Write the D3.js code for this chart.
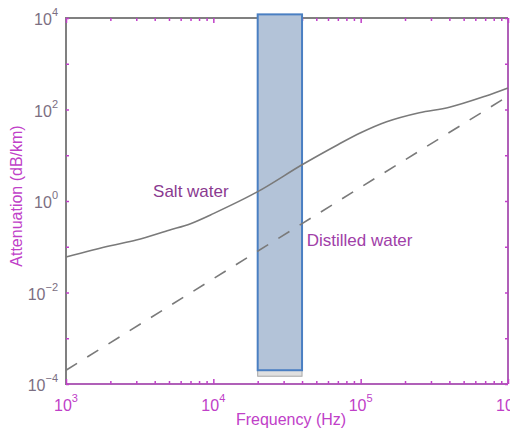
<!DOCTYPE html>
<html><head><meta charset="utf-8">
<script src="https://cdn.jsdelivr.net/npm/d3@7/dist/d3.min.js"></script>
<style>
html,body{margin:0;padding:0;background:#fff;}
svg{display:block;font-family:"Liberation Sans",Arial,Helvetica,sans-serif;}
</style></head>
<body>
<svg id="chart" width="510" height="433"></svg>
<script>
// ---- data ----
const freq = [1000,2000,3000,5000,7000,10000,20000,40000,70000,100000,150000,250000,400000,700000,1000000];
const saltWater = [0.06,0.105,0.14,0.23,0.32,0.53,1.6,6.2,17,31,54,85,112,195,295];
const freqDistilled = [1000,10000,100000,1000000];
const distilledWater = [0.0002,0.02,2,195];
const bandFreq = [20000,40000];
const bandAtten = [0.0002,12000];
const xTickExps = [3,4,5,6];
const yTickExps = [-4,-2,0,2,4];
const seriesLabels = ["Salt water","Distilled water"];
const xTitle = "Frequency (Hz)";
const yTitle = "Attenuation (dB/km)";

// ---- layout ----
const L=66, R=508, T=18, B=384;
const svg = d3.select("#chart");
const x = d3.scaleLog().domain([1e3,1e6]).range([L,R]);
const y = d3.scaleLog().domain([1e-4,1e4]).range([B,T]);

const grey="#808080", mag="#c040c8", purple="#8a3a90";

const xMajor = d3.range(3,7).map(e=>Math.pow(10,e));
const xMinor = [];
for(let e=3;e<6;e++) for(let m=2;m<10;m++) xMinor.push(m*Math.pow(10,e));
const yMajor = d3.range(-4,5).map(e=>Math.pow(10,e));

// frame
svg.append("line").attr("x1",L).attr("x2",R).attr("y1",T).attr("y2",T).attr("stroke",grey).attr("stroke-width",2);
svg.append("line").attr("x1",L).attr("x2",L).attr("y1",T-1).attr("y2",B+1).attr("stroke",grey).attr("stroke-width",2);
svg.append("line").attr("x1",L).attr("x2",R).attr("y1",B).attr("y2",B).attr("stroke","#b060b8").attr("stroke-width",2);
svg.append("line").attr("x1",R).attr("x2",R).attr("y1",T).attr("y2",B).attr("stroke","#b060b8").attr("stroke-width",2);

function styleAxis(g){ g.select(".domain").remove(); g.selectAll("line").attr("stroke",mag).attr("stroke-width",1.5); g.selectAll("text").remove(); }
svg.append("g").attr("transform",`translate(0,${B})`).call(d3.axisBottom(x).tickValues(xMinor).tickSize(-3)).call(styleAxis);
svg.append("g").attr("transform",`translate(0,${B})`).call(d3.axisBottom(x).tickValues(xMajor).tickSize(-5)).call(styleAxis);
svg.append("g").attr("transform",`translate(0,${T})`).call(d3.axisTop(x).tickValues(xMinor).tickSize(-3)).call(styleAxis);
svg.append("g").attr("transform",`translate(0,${T})`).call(d3.axisTop(x).tickValues(xMajor).tickSize(-5)).call(styleAxis);
svg.append("g").attr("transform",`translate(${L},0)`).call(d3.axisLeft(y).tickValues(yMajor).tickSize(-3)).call(styleAxis);
svg.append("g").attr("transform",`translate(${R},0)`).call(d3.axisRight(y).tickValues(yMajor).tickSize(-3)).call(styleAxis);

// band (shadow + box)
const bx0=x(bandFreq[0]), bx1=x(bandFreq[1]);
svg.append("rect").attr("x",bx0).attr("y",y(bandAtten[0])).attr("width",bx1-bx0).attr("height",6)
  .attr("fill","#e0e0e0").attr("stroke","#a8a8a8").attr("stroke-width",1);
svg.append("rect").attr("x",bx0).attr("y",y(bandAtten[1])).attr("width",bx1-bx0)
  .attr("height",y(bandAtten[0])-y(bandAtten[1]))
  .attr("fill","#b3c3d8").attr("stroke","#4a7fc2").attr("stroke-width",2);

// lines
const line = d3.line().x(d=>x(d[0])).y(d=>y(d[1])).curve(d3.curveCatmullRom.alpha(0.5));
svg.append("path").datum(freq.map((f,i)=>[f,saltWater[i]])).attr("d",line)
  .attr("fill","none").attr("stroke","#7a7a7a").attr("stroke-width",1.6);
svg.append("path").datum(freqDistilled.map((f,i)=>[f,distilledWater[i]])).attr("d",d3.line().x(d=>x(d[0])).y(d=>y(d[1])))
  .attr("fill","none").attr("stroke","#7a7a7a").attr("stroke-width",1.6).attr("stroke-dasharray","13,12");

// tick labels
xTickExps.forEach(e=>{
  const t=svg.append("text").attr("x",x(Math.pow(10,e))).attr("y",411).attr("text-anchor","middle")
    .attr("fill",mag).attr("font-size",16);
  t.append("tspan").text("10");
  t.append("tspan").attr("dy",-9).attr("font-size",11).text(String(e));
});
yTickExps.forEach(e=>{
  const t=svg.append("text").attr("x",58).attr("y",y(Math.pow(10,e))+7).attr("text-anchor","end")
    .attr("fill","#7c6f82").attr("font-size",16);
  t.append("tspan").text("10");
  t.append("tspan").attr("dy",-9).attr("font-size",11).text(e<0?"\u2212"+(-e):String(e));
});

// titles
svg.append("text").attr("x",(L+R)/2+4).attr("y",425).attr("text-anchor","middle")
  .attr("fill",mag).attr("font-size",16).text(xTitle);
svg.append("text").attr("transform","translate(22,196) rotate(-90)").attr("text-anchor","middle")
  .attr("fill",mag).attr("font-size",16).text(yTitle);

// annotations
svg.append("text").attr("x",x(3900)).attr("y",y(1.2)).attr("fill",purple).attr("font-size",17).text(seriesLabels[0]);
svg.append("text").attr("x",x(43000)).attr("y",y(0.105)).attr("fill","#a040a8").attr("font-size",17).text(seriesLabels[1]);
</script>
</body></html>
